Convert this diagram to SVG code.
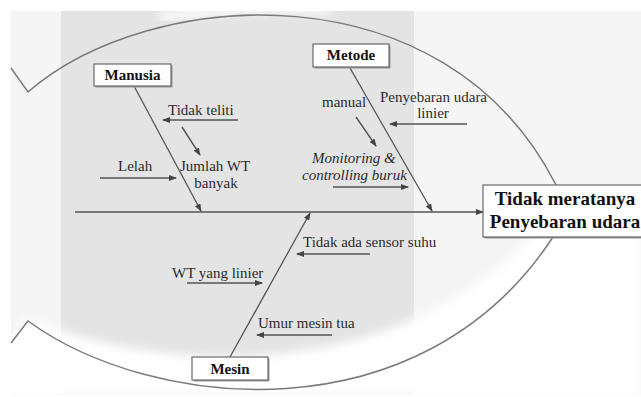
<svg xmlns="http://www.w3.org/2000/svg" width="641" height="397" viewBox="0 0 641 397">
  <style>
    .lbl { font-family: "Liberation Serif", "DejaVu Serif", serif; font-size: 15px; fill: #2b2b2b; }
    .it { font-style: italic; }
    .head { font-family: "Liberation Serif", "DejaVu Serif", serif; font-size: 15px; font-weight: bold; fill: #111; text-anchor: middle; }
    .eff { font-family: "Liberation Serif", "DejaVu Serif", serif; font-size: 19px; font-weight: bold; fill: #111; text-anchor: middle; }
    .box { fill: #ffffff; stroke: #6a6a6a; stroke-width: 1.2; }
    .shadow { fill: #9a9a9a; }
    .fish { fill: none; stroke: #7a7a7a; stroke-width: 1.5; }
    .bone { fill: none; stroke: #555; stroke-width: 1.3; marker-end: url(#ah); }
    .sub { fill: none; stroke: #555; stroke-width: 1.4; marker-end: url(#ah); }
  </style>
  <defs>
    <marker id="ah" markerUnits="userSpaceOnUse" markerWidth="8" markerHeight="6" refX="7" refY="3" orient="auto">
      <path d="M0,0 L8,3 L0,6 Z" fill="#444"/>
    </marker>
    <filter id="blur" x="-10%" y="-30%" width="120%" height="160%">
      <feGaussianBlur stdDeviation="5"/>
    </filter>
  </defs>

  <!-- background panels -->
  <rect x="0" y="0" width="641" height="397" fill="#ffffff"/>
  <rect x="11" y="11" width="630" height="384" fill="#f5f5f5"/>
  <rect x="61" y="11" width="353" height="384" fill="#e4e4e4"/>
  <path d="M0,352 L28,318 C150,372 400,392 545,222 L641,222 L641,397 L0,397 Z" fill="#ffffff" filter="url(#blur)"/>
  <path d="M160,18 C220,8 290,6 330,10" fill="none" stroke="#ffffff" stroke-width="8" filter="url(#blur)"/>

  <!-- fish outline -->
  <g id="fish-outline">
    <path class="fish" d="M11,68 L28,92 C150,-14 445,-34 556,185"/>
    <path class="fish" d="M11,343 L28,321 C150,410 420,440 553,237"/>
  </g>

  <!-- connectors -->
  <g id="connectors">
    <line class="bone" x1="75" y1="212" x2="483" y2="212"/>
    <line class="bone" x1="134" y1="86" x2="201" y2="211"/>
    <line class="bone" x1="350" y1="68" x2="432" y2="211"/>
    <line class="bone" x1="230" y1="357" x2="310" y2="213"/>
    <line class="sub" x1="238" y1="120" x2="163" y2="120"/>
    <line class="sub" x1="182" y1="127" x2="200" y2="155"/>
    <line class="sub" x1="100" y1="178" x2="176" y2="178"/>
    <line class="sub" x1="356" y1="117" x2="376" y2="146"/>
    <line class="sub" x1="333" y1="187" x2="408" y2="187"/>
    <line class="sub" x1="467" y1="124" x2="390" y2="124"/>
    <line class="sub" x1="187" y1="283" x2="262" y2="283"/>
    <line class="sub" x1="370" y1="254" x2="297" y2="254"/>
    <line class="sub" x1="332" y1="335" x2="257" y2="335"/>
  </g>

  <!-- category nodes -->
  <g id="node-manusia">
    <rect class="shadow" x="95.5" y="65.5" width="77" height="22"/>
    <rect class="box" x="94" y="64" width="77" height="22"/>
    <text class="head" x="132.5" y="79.5">Manusia</text>
  </g>
  <g id="node-metode">
    <rect class="shadow" x="314.5" y="45.5" width="76" height="23"/>
    <rect class="box" x="313" y="44" width="76" height="23"/>
    <text class="head" x="351" y="60">Metode</text>
  </g>
  <g id="node-mesin">
    <rect class="shadow" x="193.5" y="358.5" width="76" height="23"/>
    <rect class="box" x="192" y="357" width="76" height="23"/>
    <text class="head" x="230" y="373.5">Mesin</text>
  </g>
  <g id="node-effect">
    <rect class="shadow" x="484.5" y="186.5" width="170" height="52"/>
    <rect class="box" x="483" y="185" width="170" height="52"/>
    <text class="eff" x="565" y="205">Tidak meratanya</text>
    <text class="eff" x="565" y="228">Penyebaran udara</text>
  </g>

  <!-- cause labels -->
  <g id="cause-tidak-teliti"><text class="lbl" x="168" y="115">Tidak teliti</text></g>
  <g id="cause-jumlah-wt">
    <text class="lbl" x="180" y="171">Jumlah WT</text>
    <text class="lbl" x="216" y="188" text-anchor="middle">banyak</text>
  </g>
  <g id="cause-lelah"><text class="lbl" x="118" y="171">Lelah</text></g>
  <g id="cause-manual"><text class="lbl" x="322" y="107">manual</text></g>
  <g id="cause-monitoring">
    <text class="lbl it" x="312" y="163">Monitoring &amp;</text>
    <text class="lbl it" x="302" y="180">controlling buruk</text>
  </g>
  <g id="cause-penyebaran">
    <text class="lbl" x="380" y="102">Penyebaran udara</text>
    <text class="lbl" x="433" y="118" text-anchor="middle">linier</text>
  </g>
  <g id="cause-wt-linier"><text class="lbl" x="172" y="278">WT yang linier</text></g>
  <g id="cause-sensor"><text class="lbl" x="303" y="247">Tidak ada sensor suhu</text></g>
  <g id="cause-umur"><text class="lbl" x="258" y="328">Umur mesin tua</text></g>
</svg>
